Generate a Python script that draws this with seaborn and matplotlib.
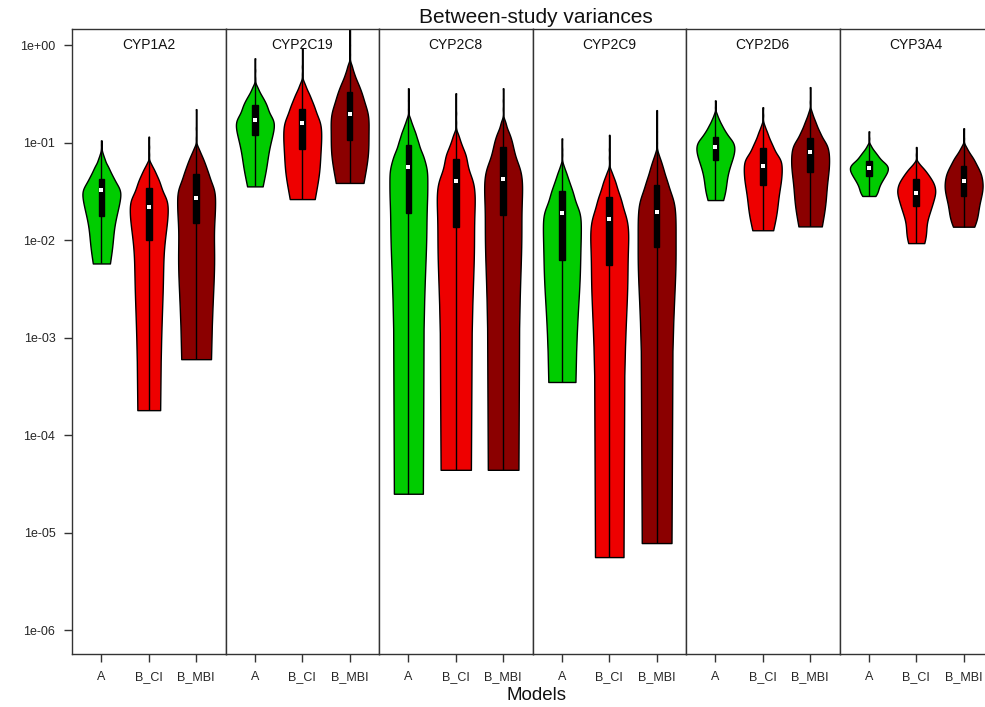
import numpy as np
import pandas as pd
import matplotlib
matplotlib.use("Agg")
import matplotlib.pyplot as plt
from matplotlib.ticker import NullLocator
import seaborn as sns

genes = ["CYP1A2", "CYP2C19", "CYP2C8", "CYP2C9", "CYP2D6", "CYP3A4"]
models = ["A", "B_CI", "B_MBI"]
model_colors = ["#00CC00", "#EE0000", "#8B0000"]
y_ticks = [1e0, 1e-1, 1e-2, 1e-3, 1e-4, 1e-5, 1e-6]
y_tick_labels = ["1e+00", "1e-01", "1e-02", "1e-03", "1e-04", "1e-05", "1e-06"]

# Posterior draws of the between-study variance, binned: value -> number of draws
cyp1a2_a_val = [0.00575, 0.0075, 0.0125, 0.0175, 0.0225, 0.0275, 0.0325, 0.0375, 0.0425,
                0.0475, 0.0525, 0.0575, 0.0625, 0.0675, 0.0725, 0.0775, 0.085, 0.095, 0.105]
cyp1a2_a_cnt = [13, 16, 24, 30, 35, 38, 39, 30, 25, 20, 16, 13, 8, 7, 4, 3, 1, 1, 1]
cyp1a2_bci_val = [0.00018, 0.0004, 0.002, 0.006, 0.010, 0.014, 0.018, 0.022, 0.026, 0.030,
                  0.034, 0.038, 0.042, 0.046, 0.050, 0.054, 0.058, 0.062, 0.075, 0.09, 0.115]
cyp1a2_bci_cnt = [1, 28, 16, 29, 33, 37, 39, 39, 38, 29, 26, 23, 20, 16, 13, 10, 6, 4, 1, 1, 1]
cyp1a2_bmbi_val = [0.0006, 0.001, 0.003, 0.009, 0.015, 0.021, 0.027, 0.033, 0.039, 0.045,
                   0.051, 0.057, 0.063, 0.069, 0.075, 0.081, 0.087, 0.093, 0.11, 0.14, 0.22]
cyp1a2_bmbi_cnt = [1, 34, 22, 32, 36, 37, 37, 37, 28, 26, 22, 19, 16, 13, 10, 7, 5, 2, 1, 1, 1]

cyp2c19_a_val = [0.0355, 0.045, 0.07, 0.095, 0.12, 0.145, 0.17, 0.195, 0.22, 0.245, 0.27,
                 0.295, 0.32, 0.345, 0.37, 0.395, 0.45, 0.55, 0.73]
cyp2c19_a_cnt = [7, 19, 24, 29, 34, 37, 37, 27, 25, 22, 18, 14, 10, 7, 5, 2, 1, 1, 1]
cyp2c19_bci_val = [0.0263, 0.04, 0.07, 0.10, 0.13, 0.16, 0.19, 0.22, 0.25, 0.28, 0.31,
                   0.34, 0.37, 0.40, 0.43, 0.5, 0.6, 0.93]
cyp2c19_bci_cnt = [18, 28, 35, 37, 37, 36, 28, 25, 21, 17, 14, 10, 7, 5, 2, 1, 1, 1]
cyp2c19_bmbi_val = [0.0385, 0.06, 0.105, 0.15, 0.195, 0.24, 0.285, 0.33, 0.375, 0.42,
                    0.465, 0.51, 0.555, 0.60, 0.645, 0.8, 1.0, 1.7]
cyp2c19_bmbi_cnt = [22, 33, 36, 38, 38, 30, 27, 23, 19, 15, 11, 9, 6, 5, 3, 1, 1, 1]

cyp2c8_a_val = [2.5e-5, 0.001, 0.006, 0.019, 0.031, 0.044, 0.056, 0.069, 0.081, 0.094,
                0.106, 0.119, 0.131, 0.144, 0.156, 0.169, 0.181, 0.22, 0.27, 0.36]
cyp2c8_a_cnt = [1, 36, 22, 38, 40, 40, 38, 33, 26, 22, 19, 16, 13, 10, 7, 5, 3, 1, 1, 1]
cyp2c8_bci_val = [4.4e-5, 0.0005, 0.0045, 0.0135, 0.0225, 0.0315, 0.0405, 0.0495, 0.0585,
                  0.0675, 0.0765, 0.0855, 0.0945, 0.1035, 0.1125, 0.1215, 0.1305, 0.16, 0.2,
                  0.32]
cyp2c8_bci_cnt = [1, 42, 18, 38, 39, 39, 36, 26, 24, 22, 20, 15, 12, 9, 7, 5, 2, 1, 1, 1]
cyp2c8_bmbi_val = [4.4e-5, 0.0006, 0.006, 0.018, 0.030, 0.042, 0.054, 0.066, 0.078, 0.090,
                   0.102, 0.114, 0.126, 0.138, 0.150, 0.162, 0.174, 0.22, 0.27, 0.36]
cyp2c8_bmbi_cnt = [1, 42, 18, 38, 39, 39, 35, 26, 23, 20, 18, 15, 12, 8, 6, 5, 2, 1, 1, 1]

cyp2c9_a_val = [3.5e-4, 0.0006, 0.0021, 0.0063, 0.0105, 0.0147, 0.0189, 0.0231, 0.0273,
                0.0315, 0.0357, 0.0399, 0.0441, 0.0483, 0.0525, 0.0567, 0.0609, 0.075,
                0.085, 0.11]
cyp2c9_a_cnt = [1, 24, 24, 36, 37, 37, 37, 27, 24, 21, 17, 14, 11, 9, 6, 4, 2, 1, 1, 1]
cyp2c9_bci_val = [5.6e-6, 0.0003, 0.0018, 0.0055, 0.0092, 0.0129, 0.0166, 0.0203, 0.0240,
                  0.0277, 0.0314, 0.0351, 0.0388, 0.0425, 0.0462, 0.0499, 0.0536, 0.07,
                  0.085, 0.12]
cyp2c9_bci_cnt = [1, 34, 22, 37, 39, 39, 36, 28, 26, 22, 18, 15, 13, 10, 7, 5, 2, 1, 1, 1]
cyp2c9_bmbi_val = [7.8e-6, 0.0004, 0.0028, 0.0084, 0.0140, 0.0196, 0.0252, 0.0308, 0.0364,
                   0.0420, 0.0476, 0.0532, 0.0588, 0.0644, 0.0700, 0.0756, 0.0812, 0.1,
                   0.13, 0.215]
cyp2c9_bmbi_cnt = [1, 36, 24, 39, 39, 38, 36, 27, 24, 20, 16, 14, 11, 9, 6, 4, 2, 1, 1, 1]

cyp2d6_a_val = [0.0257, 0.030, 0.042, 0.054, 0.066, 0.078, 0.090, 0.102, 0.114, 0.126,
                0.138, 0.150, 0.162, 0.174, 0.186, 0.198, 0.23, 0.27]
cyp2d6_a_cnt = [10, 16, 22, 27, 33, 37, 38, 35, 26, 21, 16, 13, 9, 7, 4, 3, 1, 1]
cyp2d6_bci_val = [0.0126, 0.017, 0.027, 0.037, 0.047, 0.057, 0.067, 0.077, 0.087, 0.097,
                  0.107, 0.117, 0.127, 0.137, 0.147, 0.157, 0.19, 0.23]
cyp2d6_bci_cnt = [15, 23, 31, 36, 38, 38, 37, 26, 22, 18, 14, 11, 9, 6, 4, 2, 1, 1]
cyp2d6_bmbi_val = [0.0138, 0.020, 0.035, 0.050, 0.065, 0.080, 0.095, 0.110, 0.125, 0.140,
                   0.155, 0.170, 0.185, 0.200, 0.215, 0.26, 0.37]
cyp2d6_bmbi_cnt = [17, 24, 33, 37, 38, 37, 34, 24, 20, 15, 12, 9, 6, 4, 2, 1, 1]

cyp3a4_a_val = [0.0283, 0.030, 0.035, 0.040, 0.045, 0.050, 0.055, 0.060, 0.065, 0.070,
                0.075, 0.080, 0.085, 0.090, 0.095, 0.11, 0.13]
cyp3a4_a_cnt = [7, 14, 19, 25, 31, 36, 38, 34, 25, 20, 16, 12, 8, 5, 3, 1, 1]
cyp3a4_bci_val = [0.0093, 0.0105, 0.0145, 0.0185, 0.0225, 0.0265, 0.0305, 0.0345, 0.0385,
                  0.0425, 0.0465, 0.0505, 0.0545, 0.0585, 0.0625, 0.075, 0.09]
cyp3a4_bci_cnt = [12, 14, 19, 26, 31, 35, 38, 37, 34, 29, 24, 19, 14, 8, 4, 1, 1]
cyp3a4_bmbi_val = [0.0137, 0.016, 0.022, 0.028, 0.034, 0.040, 0.046, 0.052, 0.058, 0.064,
                   0.070, 0.076, 0.082, 0.088, 0.094, 0.11, 0.14]
cyp3a4_bmbi_cnt = [15, 21, 30, 35, 38, 37, 35, 31, 26, 22, 18, 13, 9, 6, 3, 1, 1]

binned = {
    "CYP1A2": [(cyp1a2_a_val, cyp1a2_a_cnt), (cyp1a2_bci_val, cyp1a2_bci_cnt),
               (cyp1a2_bmbi_val, cyp1a2_bmbi_cnt)],
    "CYP2C19": [(cyp2c19_a_val, cyp2c19_a_cnt), (cyp2c19_bci_val, cyp2c19_bci_cnt),
                (cyp2c19_bmbi_val, cyp2c19_bmbi_cnt)],
    "CYP2C8": [(cyp2c8_a_val, cyp2c8_a_cnt), (cyp2c8_bci_val, cyp2c8_bci_cnt),
               (cyp2c8_bmbi_val, cyp2c8_bmbi_cnt)],
    "CYP2C9": [(cyp2c9_a_val, cyp2c9_a_cnt), (cyp2c9_bci_val, cyp2c9_bci_cnt),
               (cyp2c9_bmbi_val, cyp2c9_bmbi_cnt)],
    "CYP2D6": [(cyp2d6_a_val, cyp2d6_a_cnt), (cyp2d6_bci_val, cyp2d6_bci_cnt),
               (cyp2d6_bmbi_val, cyp2d6_bmbi_cnt)],
    "CYP3A4": [(cyp3a4_a_val, cyp3a4_a_cnt), (cyp3a4_bci_val, cyp3a4_bci_cnt),
               (cyp3a4_bmbi_val, cyp3a4_bmbi_cnt)],
}

rows = []
for gene in genes:
    for model, (vals, cnts) in zip(models, binned[gene]):
        draws = np.repeat(np.asarray(vals, float), np.asarray(cnts, int))
        rows.append(pd.DataFrame({"gene": gene, "model": model, "variance": draws}))
df = pd.concat(rows, ignore_index=True)

sns.set_theme(style="white")
plt.rcParams["font.family"] = ["Liberation Sans", "DejaVu Sans"]
frame_color = "#333333"

W, H = 985, 707
fig = plt.figure(figsize=(W / 100, H / 100), dpi=100)
left0, panel_w, top_px, bottom_px = 72, 153.5, 29, 654

for i, gene in enumerate(genes):
    ax = fig.add_axes([(left0 + i * panel_w) / W, 1 - bottom_px / H,
                       panel_w / W, (bottom_px - top_px) / H])
    d = df[df["gene"] == gene]
    # density is estimated on the raw variance scale, shown on a log axis
    sns.violinplot(data=d, x="model", y="variance", hue="model", order=models,
                   hue_order=models, palette=model_colors, saturation=1, inner=None,
                   cut=0, density_norm="width", bw_adjust=0.7, gridsize=300, width=0.8,
                   linewidth=1, linecolor="black", legend=False, ax=ax)
    sns.boxplot(data=d, x="model", y="variance", order=models, whis=(0, 100), width=0.12,
                color="black", saturation=1, showfliers=False, showcaps=False,
                linewidth=1, linecolor="black",
                medianprops={"color": "black", "linewidth": 0}, ax=ax)
    sns.pointplot(data=d, x="model", y="variance", order=models, estimator="median",
                  errorbar=None, color="white", marker="s", markersize=2.6,
                  markeredgewidth=0, linestyle="none", zorder=6, ax=ax)
    ax.set_yscale("log")
    ax.set_ylim(5.68e-7, 1.46)
    ax.set_xlim(-0.62, 2.62)
    ax.set_xlabel("")
    ax.set_ylabel("")
    ax.set_xticks(range(len(models)))
    ax.set_xticklabels(models, fontsize=9)
    ax.yaxis.set_minor_locator(NullLocator())
    ax.tick_params(axis="x", direction="out", length=6, width=1, color=frame_color,
                   pad=6, bottom=True)
    if i == 0:
        ax.set_yticks(y_ticks)
        ax.set_yticklabels(y_tick_labels, fontsize=9)
        ax.tick_params(axis="y", direction="out", length=6, width=1, color=frame_color,
                       pad=6, left=True)
    else:
        ax.set_yticks([])
    for sp in ax.spines.values():
        sp.set_visible(True)
        sp.set_color(frame_color)
        sp.set_linewidth(1)
    ax.text(0.5, (bottom_px - 45) / (bottom_px - top_px), gene, transform=ax.transAxes,
            ha="center", va="center", fontsize=10, color="#111111")

fig.text(536 / W, 1 - 17.5 / H, "Between-study variances", ha="center", va="center",
         fontsize=15, color="#111111")
fig.text(537 / W, 1 - 695 / H, "Models", ha="center", va="center", fontsize=13.5,
         color="#111111")

fig.savefig("out.png", dpi=100)
